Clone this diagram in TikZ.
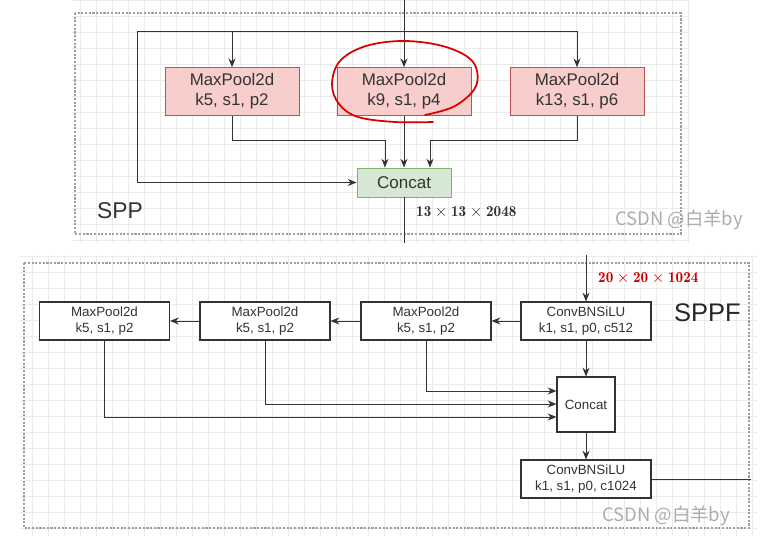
\documentclass[tikz,border=0pt]{standalone}
\usepackage{fontspec}
\setsansfont{Liberation Sans}
\newfontfamily\cjkfont{Noto Sans CJK SC}
\usetikzlibrary{arrows.meta}
\definecolor{poolfill}{HTML}{F8CECC}
\definecolor{pooldraw}{HTML}{B85450}
\definecolor{catfill}{HTML}{D5E8D4}
\definecolor{catdraw}{HTML}{82B366}
\definecolor{txt}{HTML}{333333}

\begin{document}
\begin{tikzpicture}[x=0.02cm,y=-0.02cm,
    >={Stealth[length=5pt,width=4pt]},
    gridline/.style={draw=gray!16,line width=0.3pt},
    panel/.style={draw=gray!75,line width=0.6pt,dash pattern=on 1.2pt off 0.9pt},
    bigbox/.style={rectangle,draw=pooldraw,fill=poolfill,line width=0.5pt,
        minimum width=2.68cm,minimum height=0.94cm,align=center,text=txt,
        font=\sffamily\fontsize{9.6}{11.5}\selectfont},
    smallbox/.style={rectangle,draw=txt,fill=white,line width=0.6pt,
        minimum width=2.6cm,minimum height=0.76cm,align=center,text=txt,
        inner sep=1pt,font=\sffamily\fontsize{7.6}{9.4}\selectfont},
    wire/.style={draw=txt,line width=0.5pt},
    wmark/.style={font=\cjkfont\fontsize{10.5}{12}\selectfont,text=gray!65}]
\useasboundingbox (0,0) rectangle (767,543);

% grids of both panels
\path[gridline] (72,0) grid[step=0.32cm] (690,243);
\path[gridline] (20,255) grid[step=0.32cm] (757,536);
\path[panel] (75,13) rectangle (681,234);
\path[panel] (24,263) rectangle (749,528);

% SPP
\begin{scope}[every node/.style={bigbox}]
    \node (p1) at (232,91.5) {MaxPool2d\\k5, s1, p2};
    \node (p2) at (404,91.5) {MaxPool2d\\k9, s1, p4};
    \node (p3) at (577,91.5) {MaxPool2d\\k13, s1, p6};
\end{scope}
\node[rectangle,draw=catdraw,fill=catfill,line width=0.5pt,text=txt,
    minimum width=1.88cm,minimum height=0.58cm,
    font=\sffamily\fontsize{9.7}{11}\selectfont] (cat1) at (404,182.5) {Concat};
\node[anchor=west,font=\sffamily\fontsize{13}{15}\selectfont,text=txt] (spp) at (91,211) {SPP};
\node[anchor=west,text=txt,font=\fontsize{8.6}{10}\selectfont] (dim1) at (410,212)
    {$\mathbf{13\times 13\times 2048}$};

\coordinate (in1) at (404,0);
\coordinate (bl) at (137,31);
\coordinate (br) at (577,31);
\coordinate (j1) at (385,140);
\coordinate (j3) at (430,140);
\coordinate (out1) at (404,243);
\begin{scope}[every path/.style={wire}]
    \draw[->] (in1) -- (p2.north);
    \draw (bl) -- (br);
    \draw[->] (bl -| p1) -- (p1.north);
    \draw[->] (br) -- (p3.north);
    \draw[->] (bl) |- (cat1.west);
    \draw[->] (p1.south) |- (j1) -- (j1 |- cat1.north);
    \draw[->] (p2.south) -- (cat1.north);
    \draw[->] (p3.south) |- (j3) -- (j3 |- cat1.north);
    \draw (cat1.south) -- (out1);
\end{scope}

% hand-drawn red loop
\draw[red!85!black,line width=1pt,line cap=round] plot[smooth,tension=0.6] coordinates
    {(425,115) (455,106) (476,86) (473,62) (446,47) (405,41) (366,46) (340,61)
     (332,84) (339,104) (358,117) (395,122) (433,122)};

% SPPF
\begin{scope}[every node/.style={smallbox}]
    \node (cv1) at (586,321) {ConvBNSiLU\\k1, s1, p0, c512};
    \node (mA) at (426,321) {MaxPool2d\\k5, s1, p2};
    \node (mB) at (265,321) {MaxPool2d\\k5, s1, p2};
    \node (mC) at (104.5,321) {MaxPool2d\\k5, s1, p2};
    \node[minimum width=1.16cm,minimum height=1.1cm] (cat2) at (586,404.5) {Concat};
    \node (cv2) at (586,479) {ConvBNSiLU\\k1, s1, p0, c1024};
\end{scope}
\node[anchor=west,font=\sffamily\fontsize{14.5}{17}\selectfont,text=black!85] (sppf) at (668,313) {SPPF};
\node[anchor=west,text=red!80!black,font=\fontsize{8.6}{10}\selectfont] (dim2) at (592,278)
    {$\mathbf{20\times 20\times 1024}$};

\coordinate (in2) at (586,255);
\coordinate (out2) at (751,479);
\coordinate (kA) at (426,391);
\coordinate (kB) at (265,404);
\coordinate (kC) at (104.5,417);
\begin{scope}[every path/.style={wire}]
    \draw[->] (in2) -- (cv1.north);
    \draw[->] (cv1.west) -- (mA.east);
    \draw[->] (mA.west) -- (mB.east);
    \draw[->] (mB.west) -- (mC.east);
    \draw[->] (cv1.south) -- (cat2.north);
    \draw[->] (mA.south) -- (kA) -- (kA -| cat2.west);
    \draw[->] (mB.south) -- (kB) -- (kB -| cat2.west);
    \draw[->] (mC.south) -- (kC) -- (kC -| cat2.west);
    \draw[->] (cat2.south) -- (cv2.north);
    \draw (cv2.east) -- (out2);
\end{scope}

% watermarks
\node[wmark] (wm1) at (679,220) {CSDN @白羊by};
\node[wmark] (wm2) at (666,516) {CSDN @白羊by};
\end{tikzpicture}
\end{document}
